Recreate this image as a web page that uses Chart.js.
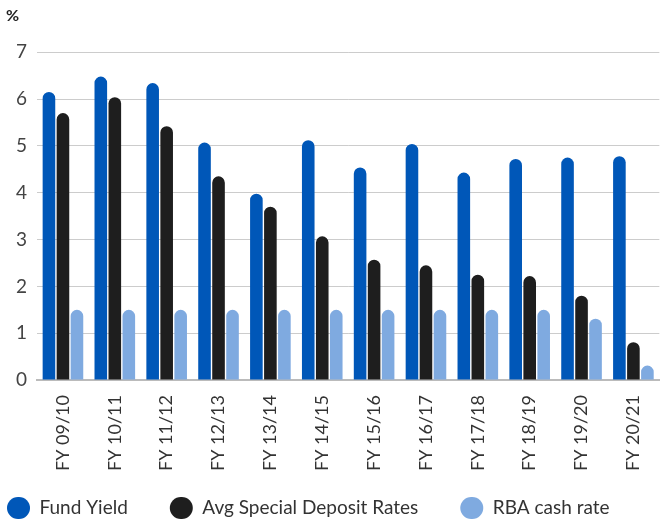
<!DOCTYPE html>
<html>
<head>
<meta charset="utf-8">
<script src="https://cdn.jsdelivr.net/npm/chart.js@4"></script>
<style>
  html, body { margin: 0; padding: 0; background: #fff; }
  #wrap { width: 662px; height: 520px; }
</style>
</head>
<body>
<div id="wrap"><canvas id="yieldChart"></canvas></div>
<script>
// Kategorien (Finanzjahre)
const years = ['FY 09/10', 'FY 10/11', 'FY 11/12', 'FY 12/13', 'FY 13/14', 'FY 14/15',
               'FY 15/16', 'FY 16/17', 'FY 17/18', 'FY 18/19', 'FY 19/20', 'FY 20/21'];

// Werte in %
const fundYield = [6.15, 6.48, 6.34, 5.07, 3.98, 5.12, 4.54, 5.04, 4.43, 4.72, 4.75, 4.78];
const avgDepositRates = [5.70, 6.04, 5.42, 4.35, 3.70, 3.07, 2.57, 2.45, 2.25, 2.22, 1.80, 0.81];
const rbaCashRate = [1.50, 1.50, 1.50, 1.50, 1.50, 1.50, 1.50, 1.50, 1.50, 1.50, 1.31, 0.31];

const yTicks = [0, 1, 2, 3, 4, 5, 6, 7];

const font = "Lato, 'Noto Sans', sans-serif";

function barSet(label, values, color) {
    return {
        label: label,
        data: values,
        backgroundColor: color,
        borderRadius: { topLeft: 7, topRight: 7 },
        borderSkipped: 'bottom',
        barPercentage: 0.9,
        categoryPercentage: 0.81
    };
}

const data = {
    labels: years,
    datasets: [
        barSet('Fund Yield', fundYield, '#0057b8'),
        barSet('Avg Special Deposit Rates', avgDepositRates, '#1e1e1e'),
        barSet('RBA cash rate', rbaCashRate, '#7faae0')
    ]
};

// Legende: alles in eine Zeile, wenig Platz reservieren, dann an die richtige Stelle schieben
const legendPlace = {
    id: 'legendPlace',
    beforeLayout(chart) {
        const lg = chart.legend;
        if (lg && !lg._patched) {
            const origFit = lg.fit.bind(lg);
            lg.fit = function () {
                const mw = this.maxWidth;
                this.maxWidth = 2000;
                origFit();
                this.maxWidth = mw;
                this.width = mw;
                this.height = 42;
            };
            lg._patched = true;
        }
    },
    afterLayout(chart) {
        const lg = chart.legend;
        const p = lg.options.labels.padding;
        lg.left = 7 - p;
        lg.right = lg.left + 2000;
        lg.top = 508 - 11 - p;
    }
};

const config = {
    type: 'bar',
    data: data,
    plugins: [legendPlace],
    options: {
        responsive: true,
        maintainAspectRatio: false,
        animation: false,
        layout: { padding: { left: 6, right: 0, top: 0, bottom: 0 } },
        plugins: {
            title: {
                display: true,
                text: '%',
                align: 'start',
                color: '#222',
                font: { family: font, size: 16 },
                padding: { top: 6, bottom: 27 }
            },
            legend: {
                position: 'bottom',
                align: 'start',
                labels: {
                    useBorderRadius: true,
                    borderRadius: 11,
                    boxWidth: 23,
                    boxHeight: 22,
                    padding: 42,
                    color: '#333',
                    font: { family: font, size: 19 }
                }
            },
            tooltip: { enabled: false }
        },
        scales: {
            x: {
                grid: { display: false },
                border: { display: true, color: '#bbbbbb', width: 2 },
                ticks: {
                    minRotation: 90,
                    maxRotation: 90,
                    color: '#333',
                    padding: 7,
                    font: { family: font, size: 18 }
                }
            },
            y: {
                min: 0,
                max: 7,
                afterBuildTicks: axis => { axis.ticks = yTicks.map(v => ({ value: v })); },
                grid: { color: '#cccccc', drawTicks: false },
                border: { display: false },
                ticks: {
                    padding: 10,
                    color: '#444',
                    font: { family: font, size: 19 }
                }
            }
        }
    }
};

const yieldChart = new Chart(document.getElementById('yieldChart'), config);
</script>
</body>
</html>
